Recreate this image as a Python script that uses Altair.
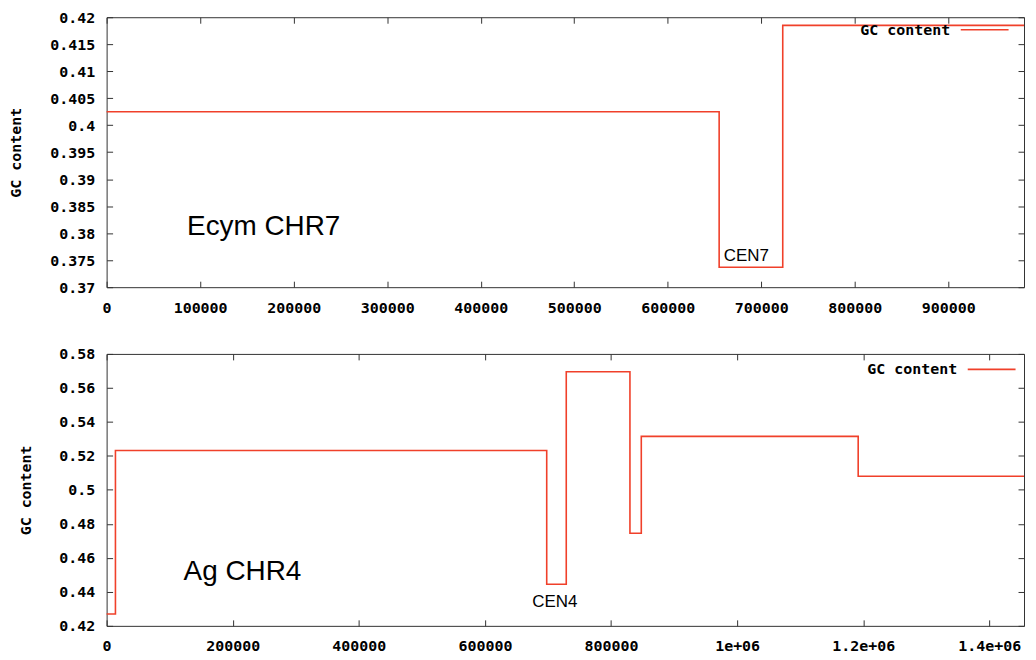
import altair as alt
import pandas as pd

SERIES = "GC content"
LINE_COLOR = "#f0402a"

# ---- top panel: Ecym chromosome 7 ----
top_pos = [0, 655000, 723000, 981000]
top_gc = [0.4025, 0.3737, 0.4185, 0.4185]
top_xdomain = [0, 981000]
top_ydomain = [0.37, 0.42]
top_xticks = [0, 100000, 200000, 300000, 400000, 500000, 600000, 700000, 800000, 900000]
top_yticks = [0.37, 0.375, 0.38, 0.385, 0.39, 0.395, 0.4, 0.405, 0.41, 0.415, 0.42]
top_notes = ["Ecym CHR7", "CEN7"]
top_note_x = [86000, 660000]
top_note_y = [0.3796, 0.3748]
top_note_size = [28, 17]

# ---- bottom panel: Ag chromosome 4 ----
bot_pos = [0, 14000, 698000, 729000, 830000, 848000, 1192000, 1455000]
bot_gc = [0.427, 0.5232, 0.4445, 0.5695, 0.4745, 0.5315, 0.508, 0.508]
bot_xdomain = [0, 1455000]
bot_ydomain = [0.42, 0.58]
bot_xticks = [0, 200000, 400000, 600000, 800000, 1000000, 1200000, 1400000]
bot_yticks = [0.42, 0.44, 0.46, 0.48, 0.5, 0.52, 0.54, 0.56, 0.58]
bot_notes = ["Ag CHR4", "CEN4"]
bot_note_x = [122000, 675000]
bot_note_y = [0.447, 0.4311]
bot_note_size = [28, 17]

FONT = "DejaVu Sans Mono"
FS = 15
XLAB = ("datum.value >= 1000000 ? replace(format(datum.value, '~g'), 'e+', 'e+0')"
        " : format(datum.value, 'd')")
YLAB = "format(datum.value, '~g')"

common_axis = dict(
    offset=-6, tickSize=6, domain=False, grid=False, tickColor="#333333",
    tickWidth=1, labelFont=FONT, labelFontSize=FS, labelFontWeight="bold",
    labelColor="black", labelFlush=False, labelOverlap=False,
)


def panel(pos, gc, xdom, ydom, xticks, yticks, notes, nx, ny, nsize,
          width, height, title_pad, legend_x, legend_y):
    df = pd.DataFrame({"pos": pos, "gc": gc, "s": [SERIES] * len(pos)})
    notes_df = pd.DataFrame({"pos": nx, "gc": ny, "t": notes, "fs": nsize})
    xs = alt.Scale(domain=xdom, nice=False, zero=False)
    ys = alt.Scale(domain=ydom, nice=False, zero=False)

    line = alt.Chart(df).mark_line(
        interpolate="step-after", strokeWidth=1.6
    ).encode(
        x=alt.X("pos:Q", scale=xs, axis=alt.Axis(
            orient="bottom", values=xticks, labelExpr=XLAB, title=None,
            labelPadding=13, **common_axis)),
        y=alt.Y("gc:Q", scale=ys, axis=alt.Axis(
            orient="left", values=yticks, labelExpr=YLAB, title="GC content",
            labelPadding=12, titlePadding=title_pad, titleFont=FONT,
            titleFontSize=FS, titleFontWeight="bold", titleColor="black",
            **common_axis)),
        color=alt.Color("s:N", scale=alt.Scale(domain=[SERIES], range=[LINE_COLOR]),
                        legend=alt.Legend(
                            orient="none", legendX=legend_x, legendY=legend_y,
                            title=None, symbolType="M-4,0H4", symbolSize=144,
                            symbolStrokeWidth=1.6, labelAlign="right",
                            labelOffset={"expr": "-42"}, labelFont=FONT,
                            labelFontSize=FS, labelFontWeight="bold",
                            labelColor="black", padding=0, labelLimit=300)),
    )

    mirror = alt.Chart(df).mark_line(opacity=0).encode(
        x=alt.X("pos:Q", scale=xs, axis=alt.Axis(
            orient="top", values=xticks, labels=False, title=None,
            minExtent=0, maxExtent=0, **common_axis)),
        y=alt.Y("gc:Q", scale=ys, axis=alt.Axis(
            orient="right", values=yticks, labels=False, title=None,
            minExtent=0, maxExtent=0, **common_axis)),
    )

    text = alt.Chart(notes_df).mark_text(
        align="left", baseline="alphabetic", font="Liberation Sans", color="black"
    ).encode(
        x=alt.X("pos:Q", scale=xs, axis=None),
        y=alt.Y("gc:Q", scale=ys, axis=None),
        text="t:N",
        size=alt.Size("fs:Q", scale=None, legend=None),
    )

    return alt.layer(line, mirror, text).resolve_axis(
        x="independent", y="independent"
    ).properties(width=width, height=height)


top = panel(top_pos, top_gc, top_xdomain, top_ydomain, top_xticks, top_yticks,
            top_notes, top_note_x, top_note_y, top_note_size,
            921, 271, 26, 874, 5)
bot = panel(bot_pos, bot_gc, bot_xdomain, bot_ydomain, bot_xticks, bot_yticks,
            bot_notes, bot_note_x, bot_note_y, bot_note_size,
            921, 273, 25, 881, 8)

chart = alt.vconcat(top, bot, spacing=30).resolve_legend(color="independent").properties(
    padding={"left": 0, "top": 0, "right": 0, "bottom": 0}
).configure_view(stroke="#333333", strokeWidth=1)

chart.save("out.html", embed_options={"renderer": "svg", "actions": False})
